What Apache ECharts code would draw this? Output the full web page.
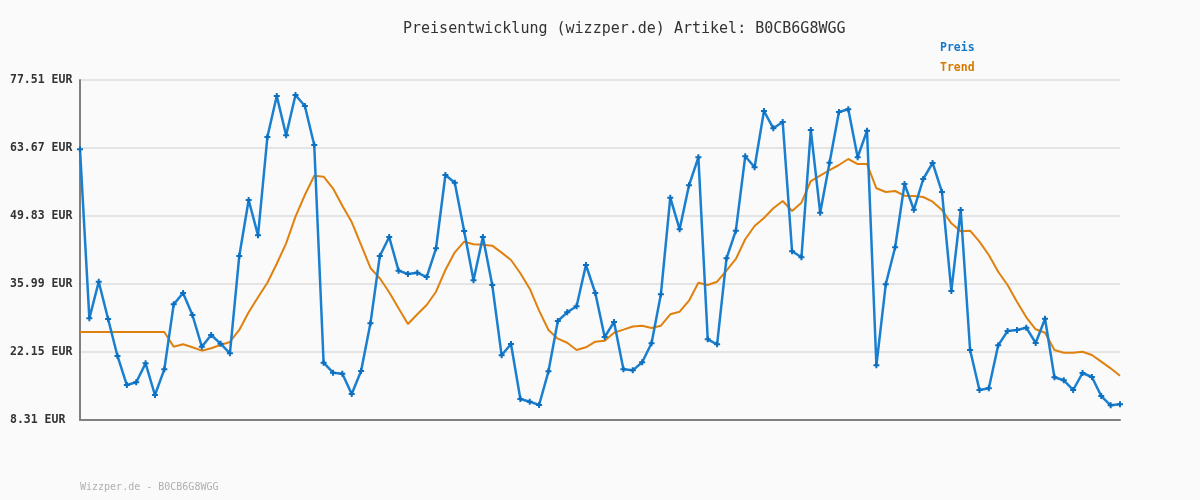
<!DOCTYPE html>
<html>
<head>
<meta charset="utf-8">
<script src="https://cdn.jsdelivr.net/npm/echarts@6/dist/echarts.min.js"></script>
<style>
html,body{margin:0;padding:0;background:#fafafa;}
#chart{width:1200px;height:500px;}
</style>
</head>
<body>
<div id="chart"></div>
<script>
var titleText = 'Preisentwicklung (wizzper.de) Artikel: B0CB6G8WGG';
var footerText = 'Wizzper.de - B0CB6G8WGG';
var seriesNames = ['Preis', 'Trend'];
var yTicks = [8.31, 22.15, 35.99, 49.83, 63.67, 77.51];

var preis = [
  63.40, 29.00, 36.46, 28.87, 21.34, 15.43, 15.98, 19.84, 13.40, 18.62,
  31.85, 34.16, 29.68, 23.23, 25.61, 23.84, 21.88, 41.69, 53.09, 45.90,
  65.91, 74.25, 66.25, 74.46, 72.22, 64.28, 19.97, 17.94, 17.73, 13.60,
  18.28, 27.99, 41.69, 45.56, 38.70, 38.03, 38.29, 37.41, 43.26, 58.17,
  56.61, 46.78, 36.74, 45.56, 35.79, 21.48, 23.78, 12.58, 12.04, 11.36,
  18.22, 28.46, 30.23, 31.45, 39.86, 34.16, 25.20, 28.26, 18.62, 18.42,
  20.05, 23.92, 33.89, 53.55, 47.12, 56.08, 61.78, 24.73, 23.72, 41.22,
  46.84, 61.98, 59.74, 71.20, 67.68, 68.96, 42.65, 41.42, 67.33, 50.50,
  60.68, 70.99, 71.55, 61.78, 67.19, 19.44, 35.93, 43.46, 56.34, 51.11,
  57.36, 60.62, 54.71, 34.57, 51.05, 22.56, 14.42, 14.76, 23.51, 26.42,
  26.63, 27.10, 23.98, 28.93, 17.00, 16.39, 14.42, 17.88, 17.06, 13.19,
  11.30, 11.51
];

var trend = [
  26.22, 26.22, 26.22, 26.22, 26.22, 26.22, 26.22, 26.22, 26.22, 26.22,
  23.23, 23.72, 23.11, 22.42, 22.90, 23.58, 24.19, 26.63, 30.23, 33.28,
  36.25, 40.12, 44.27, 49.69, 54.10, 58.03, 57.83, 55.47, 51.93, 48.60,
  43.93, 39.25, 37.15, 34.30, 31.04, 27.85, 29.82, 31.72, 34.42, 38.84,
  42.44, 44.60, 44.07, 43.99, 43.79, 42.37, 40.87, 38.17, 35.03, 30.56,
  26.63, 24.86, 24.04, 22.56, 23.11, 24.25, 24.45, 26.08, 26.70, 27.34,
  27.50, 27.03, 27.50, 29.82, 30.35, 32.59, 36.25, 35.79, 36.46, 38.70,
  41.08, 45.09, 47.79, 49.42, 51.40, 52.88, 50.85, 52.54, 56.95, 58.03,
  59.19, 60.21, 61.43, 60.41, 60.41, 55.47, 54.71, 54.92, 53.96, 53.90,
  53.70, 52.74, 51.05, 48.34, 46.71, 46.84, 44.60, 41.89, 38.49, 35.79,
  32.39, 29.21, 26.77, 26.08, 22.56, 22.01, 22.01, 22.21, 21.54, 20.18,
  18.83, 17.33
];

var categories = preis.map(function (_, i) { return String(i + 1); });

var chart = echarts.init(document.getElementById('chart'), null, {renderer: 'canvas'});
var mono = '"DejaVu Sans Mono", "Liberation Mono", monospace';
var blue = '#1a7fcf';
var orange = '#e0810f';

chart.setOption({
  backgroundColor: '#fafafa',
  animation: false,
  title: {
    text: titleText,
    left: 398,
    top: 17,
    textStyle: {fontFamily: mono, fontSize: 15, fontWeight: 'normal', color: '#333333'}
  },
  graphic: [{
    type: 'text',
    left: 80,
    top: 482,
    style: {text: footerText, font: '10px ' + mono, fill: '#b0b0b0'}
  }],
  legend: {
    orient: 'vertical',
    left: 930,
    top: 37,
    itemGap: 8,
    itemWidth: 0,
    itemHeight: 0,
    icon: 'none',
    selectedMode: false,
    data: [
      {name: seriesNames[0], textStyle: {color: '#1577c7'}},
      {name: seriesNames[1], textStyle: {color: '#d77a00'}}
    ],
    textStyle: {fontFamily: mono, fontSize: 11.5, fontWeight: 'bold'}
  },
  grid: {left: 80, right: 80, top: 80, bottom: 80, containLabel: false},
  xAxis: {
    type: 'category',
    data: categories,
    boundaryGap: false,
    axisLine: {show: true, onZero: false, lineStyle: {color: '#808080', width: 2}},
    axisTick: {show: false},
    axisLabel: {show: false},
    splitLine: {show: false}
  },
  yAxis: {
    type: 'value',
    min: yTicks[0],
    max: yTicks[yTicks.length - 1],
    interval: yTicks[1] - yTicks[0],
    axisLine: {show: true, lineStyle: {color: '#808080', width: 2}},
    axisTick: {show: false},
    axisLabel: {
      align: 'left',
      margin: 70,
      fontFamily: mono,
      fontSize: 11.5,
      fontWeight: 'bold',
      color: '#333333',
      formatter: function (v) { return v.toFixed(2) + ' EUR'; }
    },
    splitLine: {show: true, lineStyle: {color: '#e4e4e4', width: 2}}
  },
  series: [
    {
      name: seriesNames[0],
      type: 'line',
      data: preis,
      symbol: 'path://M2,0H4V2H6V4H4V6H2V4H0V2H2Z',
      symbolSize: 6,
      showAllSymbol: true,
      itemStyle: {color: '#0c6fbf'},
      lineStyle: {color: blue, width: 2.5},
      z: 3
    },
    {
      name: seriesNames[1],
      type: 'line',
      data: trend,
      symbol: 'none',
      itemStyle: {color: orange},
      lineStyle: {color: orange, width: 2},
      z: 2
    }
  ]
});
</script>
</body>
</html>
